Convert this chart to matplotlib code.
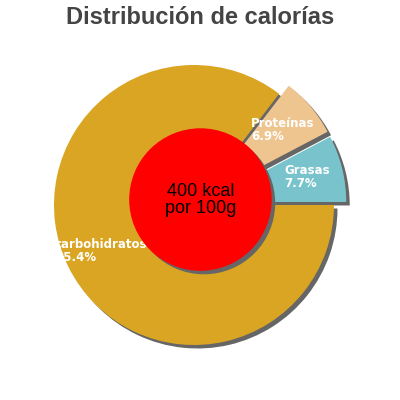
import numpy as np
import matplotlib
matplotlib.use("Agg")
import matplotlib.pyplot as plt
from matplotlib.patches import Circle

# Data
labels = ["Grasas", "Proteínas", "carbohidratos"]
values = [7.7, 6.9, 85.4]
colors = ["#79c4cc", "#eec48f", "#daa522"]
explode = [0.09, 0.09, 0.0]
kcal_text = "400 kcal\npor 100g"
title = "Distribución de calorías"

R_PX = 140.0  # pie radius in pixels
fig = plt.figure(figsize=(4, 4), dpi=100)
ax = fig.add_axes([0, 0, 1, 1])
ax.set_xlim(-194 / R_PX, 206 / R_PX)
ax.set_ylim(-195 / R_PX, 205 / R_PX)
ax.set_aspect("equal")
ax.axis("off")

# Flat shadow: same pie in gray, shifted down-right
sh = 3.5 / R_PX
ax.pie(values, explode=explode, colors=["#666666"] * 3, startangle=0,
       center=(sh, -sh), radius=1.0, frame=True)
wedges, _ = ax.pie(values, explode=explode, colors=colors, startangle=0,
                   center=(0, 0), radius=1.0, frame=True)

# Reset limits (pie with frame=True may change them)
ax.set_xlim(-194 / R_PX, 206 / R_PX)
ax.set_ylim(-195 / R_PX, 205 / R_PX)
ax.axis("off")

# Labels placed along each wedge bisector
total = sum(values)
start = 0.0
for lab, v, ex in zip(labels, values, explode):
    ang = np.deg2rad(start + 360 * v / total / 2)
    r = 0.74 + ex
    ax.text(r * np.cos(ang), r * np.sin(ang), f"{lab}\n{v:.1f}%",
            ha="center", va="center", multialignment="left",
            color="white", fontsize=8.5, fontweight="bold",
            family="DejaVu Sans", linespacing=0.95)
    start += 360 * v / total

# Center circle with shadow
cx, cy, cr = 0.046, 0.039, 0.504
ax.add_patch(Circle((cx + sh, cy - sh), cr, color="#666666", zorder=5))
ax.add_patch(Circle((cx, cy), cr, color="#ff0000", zorder=6))
ax.text(cx, cy, kcal_text, ha="center", va="center", fontsize=13,
        family="Liberation Sans", color="black", zorder=7, linespacing=1.0)

fig.text(0.5, 1 - 17 / 400, title, ha="center", va="center", fontsize=17,
         fontweight="bold", family="Liberation Sans", color="#444444")

fig.savefig("out.png", dpi=100)
